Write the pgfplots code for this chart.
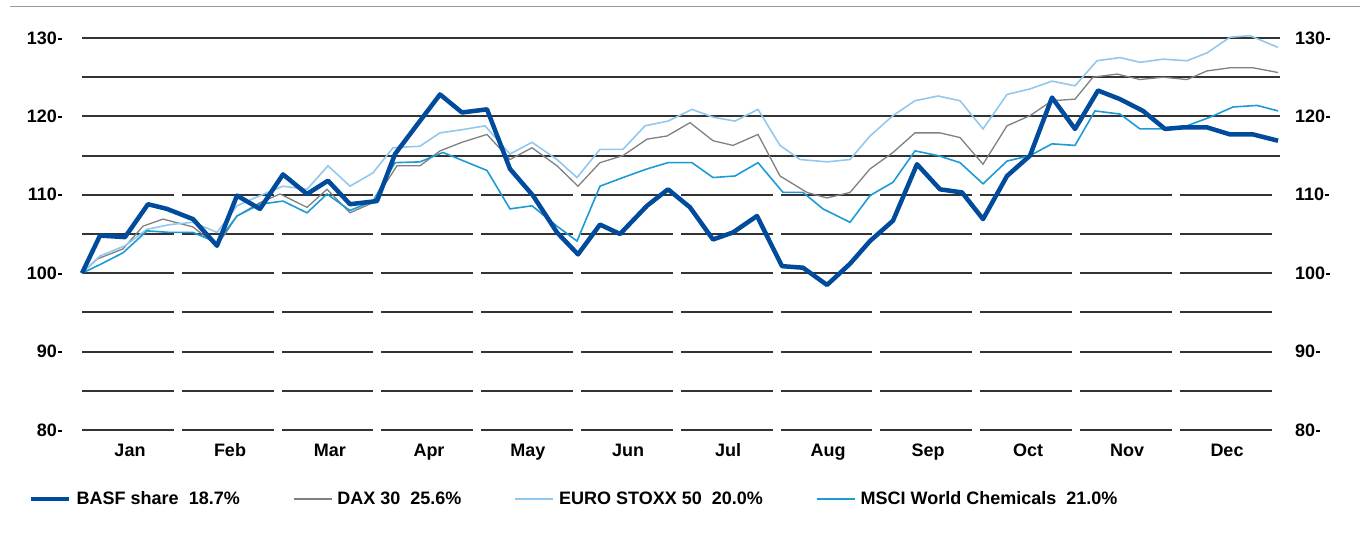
\documentclass[border=0pt]{standalone}
\usepackage{pgfplots}
\pgfplotsset{compat=1.18}
\usepackage{fontspec}
\setmainfont{Liberation Sans}
\definecolor{basf}{HTML}{004B9B}
\definecolor{daxc}{HTML}{808080}
\definecolor{eurc}{HTML}{93C8EE}
\definecolor{msci}{HTML}{1E9BD7}
\definecolor{gridc}{HTML}{333333}
\newcommand\lf{\fontsize{18}{21}\selectfont\bfseries}
\newcommand\tl[1]{#1\hspace{1pt}\rule[4.5pt]{4pt}{2pt}}
\pgfplotsset{base/.style={
  scale only axis, width=1198pt, height=392pt,
  at={(82pt,106pt)}, anchor=south west,
  xmin=82, xmax=1280, ymin=80, ymax=130,
  axis line style={draw=none}, tick style={draw=none},
  major tick length=0pt, clip=false,
  ytick={80,90,100,110,120,130},
  yticklabels={\tl{80},\tl{90},\tl{100},\tl{110},\tl{120},\tl{130}},
  ticklabel style={font=\lf, inner sep=0pt},
}}
\begin{document}
\begin{tikzpicture}
\useasboundingbox (0,0) rectangle (1360pt,536pt);
\draw[gray!80, line width=1pt] (10pt,529pt) -- (1360pt,529pt);
\begin{axis}[base,
  xtick={130,230,330,429,528,628,728,828,928,1028,1127,1227},
  xticklabels={Jan,Feb,Mar,Apr,May,Jun,Jul,Aug,Sep,Oct,Nov,Dec},
  xticklabel style={anchor=base, yshift=-26pt},
  yticklabel style={anchor=east, xshift=-20pt},
  legend columns=4,
  legend style={at={(axis description cs:-0.0442,-0.1760)}, anchor=west,
    draw=none, fill=none, inner sep=0pt, font=\lf,
    nodes={inner sep=0pt},
    /tikz/every odd column/.append style={column sep=5pt},
    /tikz/every even column/.append style={column sep=53pt}},
  legend image code/.code={\draw[#1] (0pt,0pt) -- (38pt,0pt);},
]
\foreach \v in {115,120,125,130}{
  \edef\tmp{\noexpand\draw[gridc, line width=2pt] (axis cs:82,\v) -- (axis cs:1280,\v);}\tmp
}
\foreach \v in {80,85,90,95,100,105,110}{
  \edef\tmp{\noexpand\draw[gridc, line width=2pt, dash pattern=on 91.8pt off 8pt] (axis cs:82,\v) -- (axis cs:1272,\v);}\tmp
}
\addlegendimage{basf, line width=4.5pt}
\addlegendentry{BASF share\ \ 18.7\%}
\addlegendimage{daxc, line width=1.5pt}
\addlegendentry{DAX 30\ \ 25.6\%}
\addlegendimage{eurc, line width=1.8pt}
\addlegendentry{EURO STOXX 50\ \ 20.0\%}
\addlegendimage{msci, line width=1.8pt}
\addlegendentry{MSCI World Chemicals\ \ 21.0\%}
% DAX 30
\addplot[daxc, line width=1.3pt, forget plot] coordinates {
(82,100) (97,101.8) (123,103.1) (143,106.0) (163,106.9) (193,105.9) (217,103.5)
(237,107.3) (260,109.0) (280,110.1) (307,108.4) (327,110.7) (350,107.7) (373,109.0)
(397,113.7) (420,113.7) (440,115.6) (462,116.7) (487,117.7) (510,114.5) (532,116.0)
(557,113.7) (578,111.1) (600,114.1) (623,115.0) (647,117.1) (667,117.5) (690,119.2)
(713,116.9) (733,116.3) (758,117.7) (780,112.4) (807,110.3) (827,109.6) (850,110.3)
(870,113.3) (893,115.4) (915,117.9) (940,117.9) (960,117.3) (983,113.9) (1007,118.8)
(1030,120.1) (1052,122.0) (1075,122.2) (1093,125.0) (1117,125.4) (1140,124.7)
(1163,125.0) (1187,124.7) (1207,125.8) (1230,126.2) (1253,126.2) (1278,125.6)};
% EURO STOXX 50
\addplot[eurc, line width=1.6pt, forget plot] coordinates {
(82,100) (100,102.2) (125,103.5) (147,105.6) (170,106.2) (193,106.5) (217,105.2)
(237,108.6) (260,109.9) (283,111.1) (307,110.7) (328,113.7) (350,111.1) (373,112.8)
(393,116.0) (420,116.2) (440,117.9) (462,118.3) (485,118.8) (510,115.2) (532,116.7)
(557,114.5) (577,112.2) (600,115.8) (623,115.8) (645,118.8) (668,119.4) (692,120.9)
(713,119.9) (735,119.4) (758,120.9) (780,116.3) (800,114.5) (827,114.2) (850,114.5)
(870,117.5) (893,120.1) (915,122.0) (938,122.6) (960,122.0) (983,118.4) (1007,122.8)
(1030,123.5) (1052,124.5) (1075,123.9) (1097,127.1) (1120,127.5) (1140,126.9)
(1163,127.3) (1187,127.1) (1207,128.1) (1230,130.1) (1250,130.3) (1278,128.8)};
% MSCI World Chemicals
\addplot[msci, line width=1.6pt, forget plot] coordinates {
(82,100) (100,101.1) (123,102.6) (147,105.4) (170,105.2) (193,105.2) (217,103.9)
(237,107.3) (260,108.8) (283,109.2) (307,107.7) (327,110.1) (350,108.0) (373,109.2)
(395,114.1) (420,114.2) (443,115.4) (487,113.1) (510,108.2) (532,108.6) (557,106.0)
(577,104.1) (600,111.1) (623,112.2) (647,113.3) (668,114.1) (692,114.1) (713,112.2)
(735,112.4) (758,114.1) (783,110.3) (803,110.3) (823,108.2) (850,106.5) (870,109.9)
(893,111.6) (915,115.6) (938,115.0) (960,114.1) (983,111.4) (1007,114.3) (1030,115.0)
(1052,116.5) (1075,116.3) (1095,120.7) (1120,120.3) (1140,118.4) (1163,118.4)
(1187,118.8) (1210,119.9) (1233,121.2) (1257,121.4) (1278,120.7)};
% BASF share
\addplot[basf, line width=4.5pt, line join=round, forget plot] coordinates {
(82,100.0) (100,104.8) (125,104.6) (148,108.8) (167,108.2) (193,106.9) (217,103.5)
(237,109.9) (260,108.2) (283,112.6) (307,110.1) (328,111.8) (350,108.8) (377,109.2)
(395,115.2) (440,122.8) (462,120.5) (487,120.9) (510,113.3) (533,109.9) (557,105.2)
(578,102.4) (600,106.2) (620,105.0) (647,108.6) (668,110.7) (690,108.4) (713,104.3)
(733,105.2) (757,107.3) (782,100.9) (803,100.7) (827,98.5) (850,101.2) (870,104.1)
(893,106.7) (917,113.9) (940,110.7) (962,110.3) (983,106.9) (1007,112.4) (1030,115.0)
(1052,122.4) (1075,118.4) (1098,123.3) (1120,122.2) (1143,120.7) (1165,118.4)
(1183,118.6) (1207,118.6) (1230,117.7) (1253,117.7) (1278,116.9)};
\end{axis}
\begin{axis}[base, xtick=\empty, yticklabel pos=right,
  yticklabel style={anchor=west, xshift=15pt}]
\end{axis}
\end{tikzpicture}
\end{document}
